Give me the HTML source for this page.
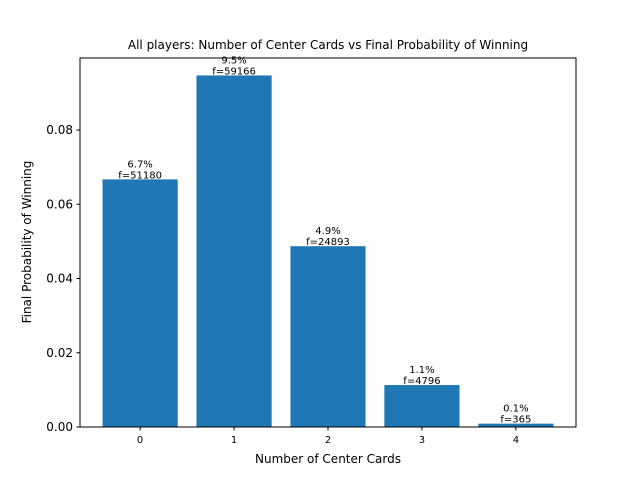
<!DOCTYPE html>
<html><head><meta charset="utf-8"><style>body{margin:0;background:#fff}svg{display:block;font-family:"DejaVu Sans","Liberation Sans",sans-serif}</style></head>
<body>
<svg id="chart" width="640" height="480">
<text x="328" y="49" font-size="12" text-anchor="middle">All players: Number of Center Cards vs Final Probability of Winning</text>
<g id="plot"></g>
<rect x="80" y="58" width="496" height="369" fill="none" stroke="#000" stroke-width="1"/>
<text x="328" y="463" font-size="12" text-anchor="middle">Number of Center Cards</text>
<text transform="translate(31,242) rotate(-90)" font-size="12" text-anchor="middle">Final Probability of Winning</text>
</svg>
<script>
const categories = ["0","1","2","3","4"];
const values = [0.0667, 0.0947, 0.0487, 0.0113, 0.0009];
const pctLabels = ["6.7%","9.5%","4.9%","1.1%","0.1%"];
const freqLabels = ["f=51180","f=59166","f=24893","f=4796","f=365"];
const yTicks = [0, 0.02, 0.04, 0.06, 0.08];
const yTickLabels = ["0.00","0.02","0.04","0.06","0.08"];

const L=80,R=576,T=58,B=427, xmin=-0.64, xmax=4.64, ymax=0.0994;
const xs=i=>L+(i-xmin)/(xmax-xmin)*(R-L);
const ys=v=>B-v/ymax*(B-T);
const ns="http://www.w3.org/2000/svg", g=document.getElementById('plot');
function mk(t,a,txt){const e=document.createElementNS(ns,t);for(const k in a)e.setAttribute(k,a[k]);if(txt!=null)e.textContent=txt;g.appendChild(e);return e;}
const bw=0.8*(R-L)/(xmax-xmin);
categories.forEach((c,i)=>{
  const cx=xs(i), y=ys(values[i]);
  const b=mk('rect',{x:cx-bw/2,y:y,width:bw,height:B-y,fill:'#1f77b4'});
  
  
  const t1=mk('text',{x:cx,y:y-12,'font-size':'10','text-anchor':'middle'},pctLabels[i]);
  
  
  const t2=mk('text',{x:cx,y:y-1,'font-size':'10','text-anchor':'middle'},freqLabels[i]);
  
  
  const tk=mk('line',{x1:cx,x2:cx,y1:B,y2:B+3.5,stroke:'#000'});
  
  
  const tl=mk('text',{x:cx,y:B+16,'font-size':'10','text-anchor':'middle'},c);
  
  
});
yTicks.forEach((v,i)=>{
  const y=ys(v);
  const tk=mk('line',{x1:L-3.5,x2:L,y1:y,y2:y,stroke:'#000'});
  
  
  const tl=mk('text',{x:L-7,y:y+4,'font-size':'12','text-anchor':'end'},yTickLabels[i]);
  
  
});
</script>
</body></html>
